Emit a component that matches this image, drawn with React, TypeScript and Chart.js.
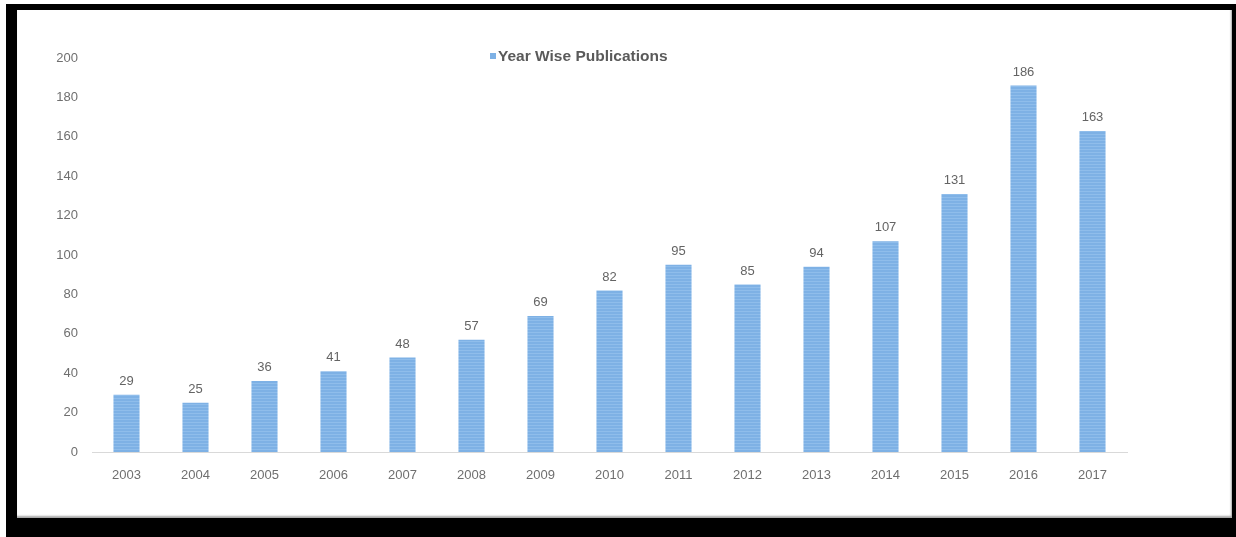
import React, { useEffect, useRef } from "react";
import { Chart, registerables } from "chart.js";

Chart.register(...registerables);

const years = ["2003", "2004", "2005", "2006", "2007", "2008", "2009", "2010", "2011", "2012", "2013", "2014", "2015", "2016", "2017"];
const publications = [29, 25, 36, 41, 48, 57, 69, 82, 95, 85, 94, 107, 131, 186, 163];
const seriesLabel = "Year Wise Publications";
const yTicks = [0, 20, 40, 60, 80, 100, 120, 140, 160, 180, 200];

const BAR_BASE = "#7eb1e5";
const BAR_STRIPE = "#8fbdeb";
const FONT = "'Liberation Sans', Arial, sans-serif";

function makeStripePattern(): CanvasPattern | string {
  const c = document.createElement("canvas");
  c.width = 4;
  c.height = 3;
  const g = c.getContext("2d");
  if (!g) return BAR_BASE;
  g.fillStyle = BAR_BASE;
  g.fillRect(0, 0, 4, 3);
  g.fillStyle = BAR_STRIPE;
  g.fillRect(0, 1, 4, 1);
  return g.createPattern(c, "repeat") || BAR_BASE;
}

// Draws each bar's value just above it
const valueLabels = {
  id: "valueLabels",
  afterDatasetsDraw(chart: any) {
    const ctx = chart.ctx;
    const meta = chart.getDatasetMeta(0);
    const data = chart.data.datasets[0].data as number[];
    ctx.save();
    ctx.font = `13px ${FONT}`;
    ctx.fillStyle = "#646464";
    ctx.textAlign = "center";
    ctx.textBaseline = "bottom";
    meta.data.forEach((bar: any, i: number) => {
      ctx.fillText(String(data[i]), bar.x, bar.y - 7);
    });
    ctx.restore();
  },
};

// Single-entry legend drawn above the plot
const topLegend = {
  id: "topLegend",
  afterDraw(chart: any) {
    const ctx = chart.ctx;
    const label = chart.data.datasets[0].label as string;
    const x = 473;
    const y = 46;
    ctx.save();
    ctx.fillStyle = BAR_BASE;
    ctx.fillRect(x, y - 3, 6, 6);
    ctx.font = `bold 15.5px ${FONT}`;
    ctx.fillStyle = "#5a5a5a";
    ctx.textAlign = "left";
    ctx.textBaseline = "middle";
    ctx.fillText(label, x + 8, y + 1);
    ctx.restore();
  },
};

export default function App() {
  const canvasRef = useRef<HTMLCanvasElement | null>(null);

  useEffect(() => {
    const canvas = canvasRef.current;
    if (!canvas) return;
    const chart = new Chart(canvas, {
      type: "bar",
      data: {
        labels: years,
        datasets: [
          {
            label: seriesLabel,
            data: publications,
            backgroundColor: makeStripePattern() as any,
            borderWidth: 0,
            barPercentage: 0.9,
            categoryPercentage: 0.42,
          },
        ],
      },
      options: {
        animation: false,
        responsive: false,
        maintainAspectRatio: false,
        layout: { padding: { top: 48, right: 105, bottom: 26, left: 0 } },
        plugins: {
          legend: { display: false },
          tooltip: { enabled: false },
        },
        scales: {
          x: {
            grid: { display: false, drawTicks: false },
            border: { display: true, color: "#d9d9d9", width: 1 },
            ticks: {
              color: "#6f6f6f",
              font: { family: FONT, size: 13 },
              padding: 16,
              maxRotation: 0,
            },
            afterFit(scale: any) {
              scale.height = 40;
            },
          },
          y: {
            min: 0,
            max: 200,
            afterBuildTicks(scale: any) {
              scale.ticks = yTicks.map((v) => ({ value: v }));
            },
            grid: { display: false, drawTicks: false },
            border: { display: false },
            ticks: {
              color: "#6f6f6f",
              font: { family: FONT, size: 13 },
              padding: 14,
            },
            afterFit(scale: any) {
              scale.width = 75;
            },
          },
        },
      },
      plugins: [valueLabels, topLegend],
    });
    return () => chart.destroy();
  }, []);

  return (
    <div
      style={{
        position: "fixed",
        left: 0,
        top: 0,
        width: 1236,
        height: 537,
        background: "#ffffff",
        overflow: "hidden",
      }}
    >
      <div
        style={{
          position: "absolute",
          left: 6,
          top: 4,
          width: 1230,
          height: 533,
          background: "#000000",
        }}
      />
      <div
        style={{
          position: "absolute",
          left: 17,
          top: 10,
          width: 1215,
          height: 508,
          background: "#ffffff",
          boxShadow: "inset -1px -2px 2px rgba(0,0,0,0.35)",
        }}
      >
        <canvas ref={canvasRef} width={1215} height={508} style={{ display: "block" }} />
      </div>
    </div>
  );
}
